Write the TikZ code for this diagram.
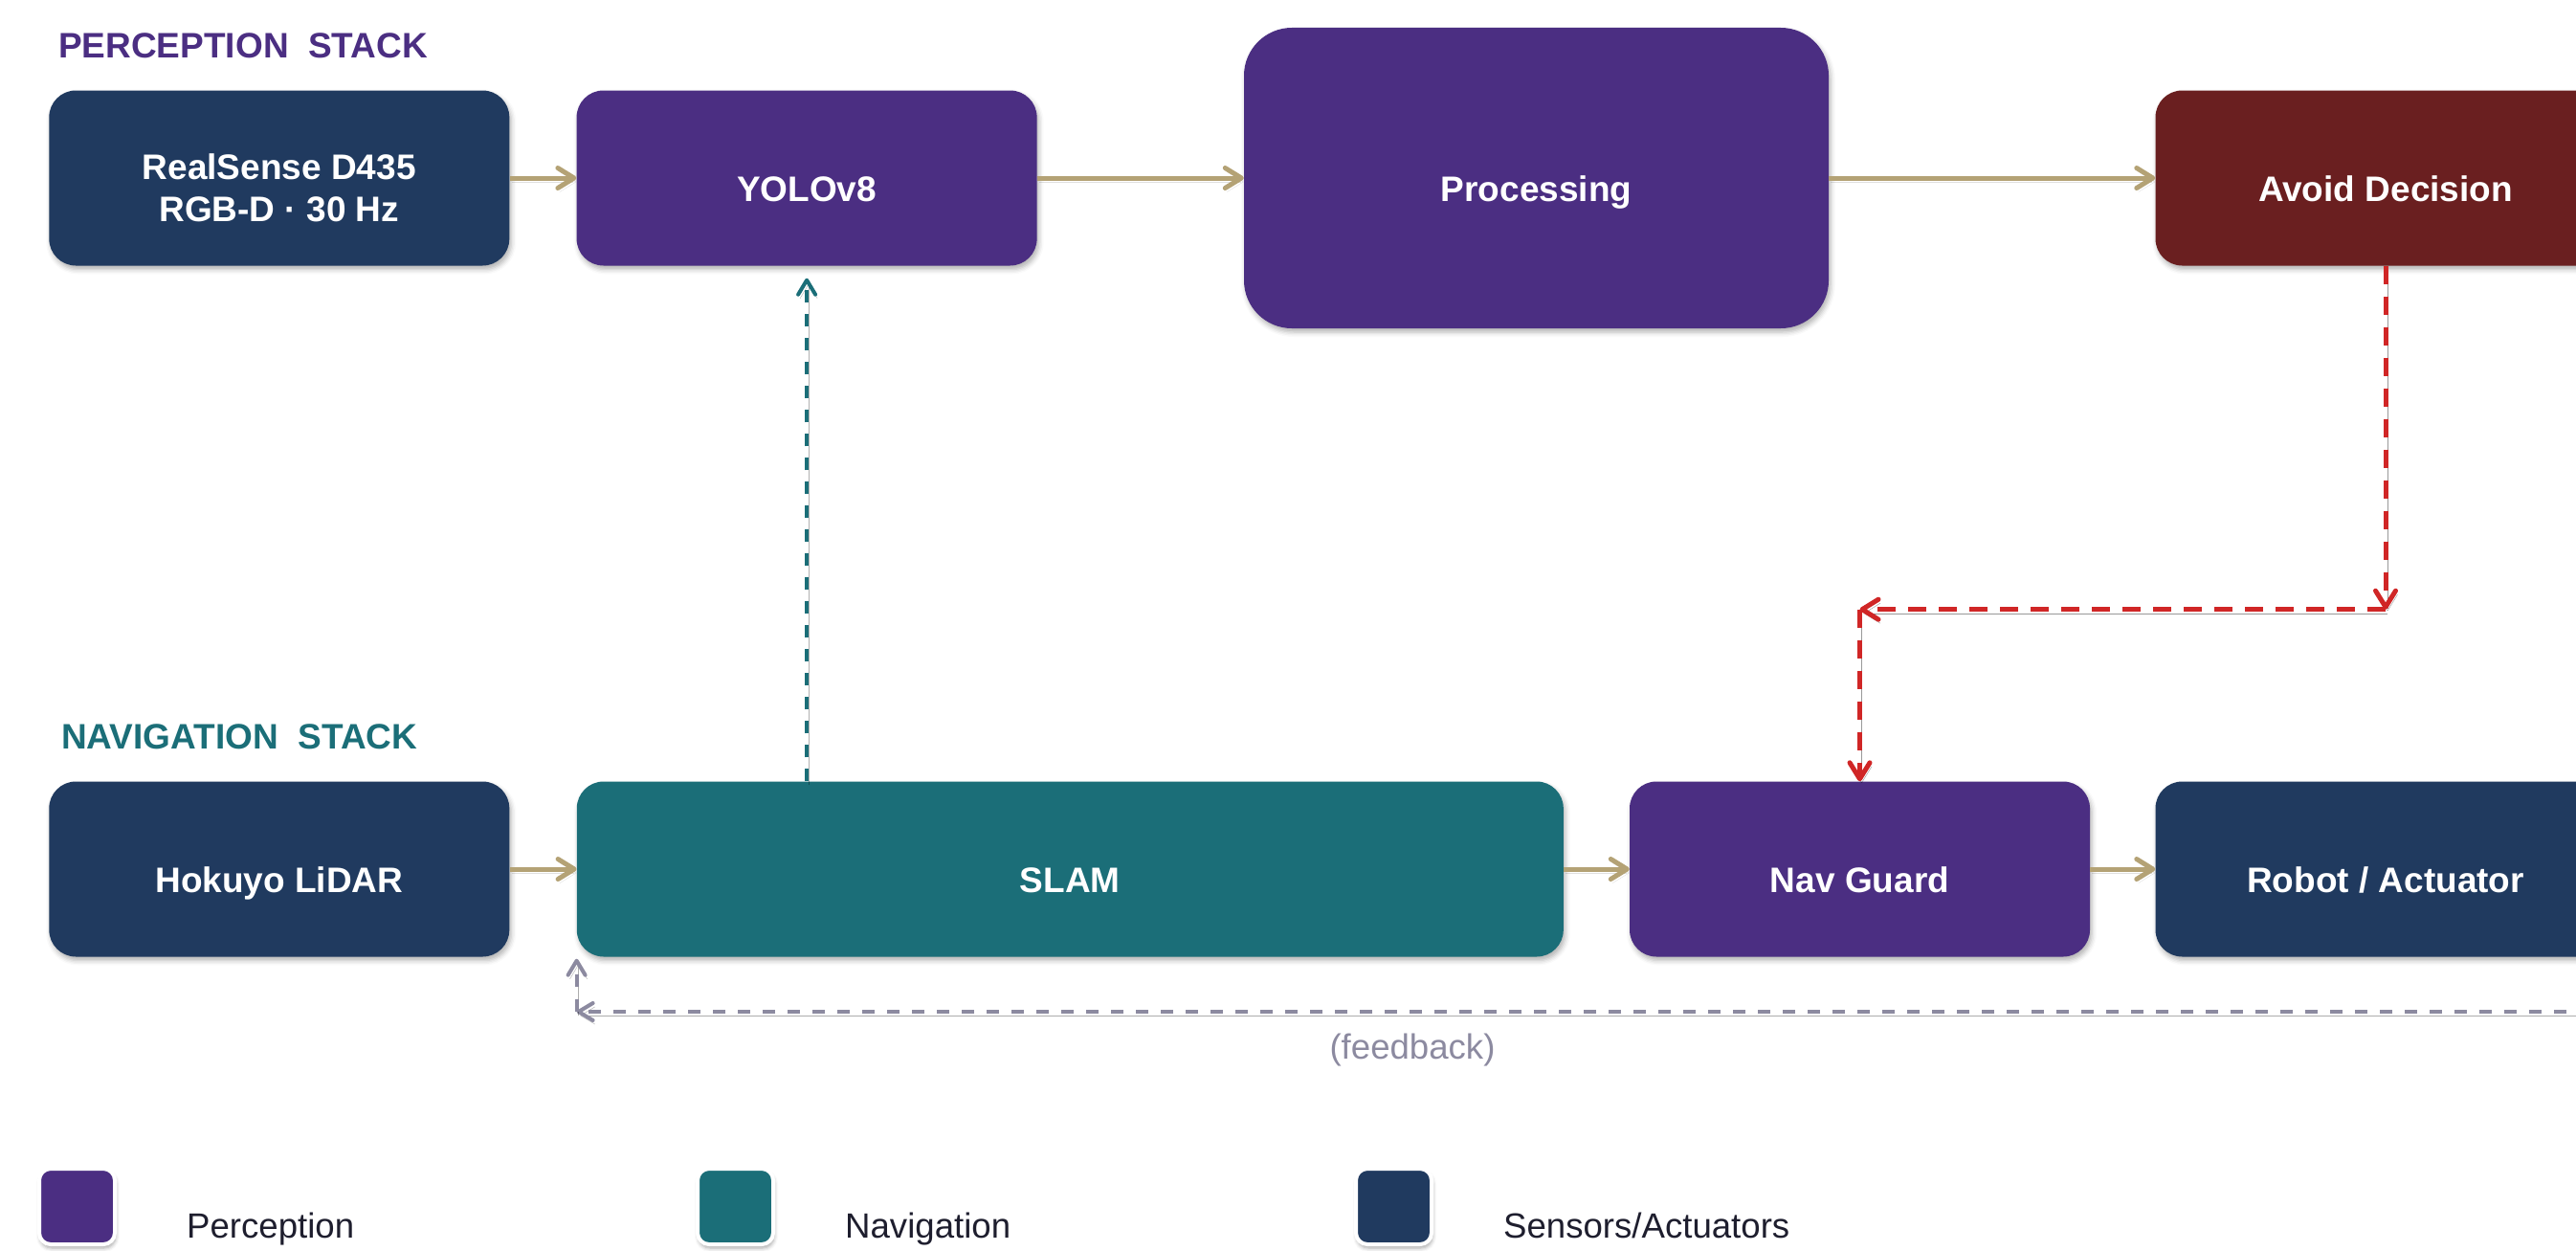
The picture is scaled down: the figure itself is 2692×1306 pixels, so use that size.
\documentclass[tikz,border=0pt]{standalone}
\usepackage{fontspec}
\setmainfont{Liberation Sans}
\usetikzlibrary{arrows.meta,shadows.blur,calc}

\definecolor{sensornavy}{HTML}{203A5F}
\definecolor{percpurple}{HTML}{4B2E82}
\definecolor{navteal}{HTML}{1B6E78}
\definecolor{alertmaroon}{HTML}{6A1F20}
\definecolor{flowtan}{HTML}{B4A275}
\definecolor{alertred}{HTML}{D02626}
\definecolor{fbgrey}{HTML}{8C8AA0}
\definecolor{legendink}{HTML}{1E1E2E}

% single-line box label: baseline 24pt below the box centre
\newcommand{\boxlabel}[1]{\raisebox{-24pt}[0pt][0pt]{#1}}
% two-line box label: first baseline 1pt below the centre, lines 44pt apart
\newcommand{\boxlabeltwo}[2]{\raisebox{-1pt}[0pt][0pt]{\begin{tabular}[t]{@{}c@{}}#1\\#2\end{tabular}}}

\tikzset{
  blk/.style={rectangle, rounded corners=28pt, minimum width=481pt, minimum height=183pt,
    inner sep=0pt, text=white, font=\fontsize{37}{44}\selectfont\bfseries,
    blur shadow={shadow xshift=2pt, shadow yshift=-4pt, shadow blur radius=5pt, shadow opacity=30}},
  sensorbox/.style={blk, fill=sensornavy},
  percbox/.style={blk, fill=percpurple},
  navbox/.style={blk, fill=navteal},
  alertbox/.style={blk, fill=alertmaroon},
  lineshade/.style={preaction={draw=black, opacity=#1, transform canvas={shift={(2pt,-4pt)}}}},
  lineshade/.default=0.15,
  flowarrow/.style={draw=flowtan, line width=5pt, lineshade=0.12,
    -{Straight Barb[length=17pt, width=21pt, round]}},
  tealarrow/.style={draw=navteal, line width=4pt, lineshade=0.3,
    dash pattern=on 13pt off 12pt, shorten >=13pt,
    -{Straight Barb[length=15pt, width=18pt, round]}},
  alertarrow/.style={draw=alertred, line width=5pt, lineshade=0.4,
    dash pattern=on 19pt off 13pt,
    -{Straight Barb[length=17pt, width=21pt, round]}},
  fbarrow/.style={draw=fbgrey, line width=4pt, lineshade=0.32,
    dash pattern=on 13pt off 13pt,
    -{Straight Barb[length=15pt, width=18pt, round]}},
  stacktitle/.style={anchor=base west, inner sep=0pt, font=\fontsize{37}{44}\selectfont\bfseries},
  legendsq/.style={rectangle, rounded corners=12pt, minimum size=79pt, inner sep=0pt,
    draw=white, line width=4pt,
    blur shadow={shadow xshift=1pt, shadow yshift=-4pt, shadow blur radius=4pt, shadow opacity=35}},
  legendtxt/.style={anchor=base west, inner sep=0pt, text=legendink,
    font=\fontsize{36.6}{44}\selectfont},
}

\begin{document}
\begin{tikzpicture}[x=1pt, y=-1pt]
\useasboundingbox (0,0) rectangle (2692,1306);
\clip (0,0) rectangle (2692,1306);

% stack titles
\node[stacktitle, text=percpurple] (ptitle) at (61,60) {PERCEPTION~~STACK};
\node[stacktitle, text=navteal] (ntitle) at (64,782) {NAVIGATION~~STACK};

% perception row
\node[sensorbox] (cam) at (291.8,186) {\boxlabeltwo{RealSense D435}{RGB-D · 30 Hz}};
\node[percbox] (yolo) at (843.1,186) {\boxlabel{YOLOv8}};
\node[percbox, minimum width=611pt, minimum height=314pt, rounded corners=50pt] (proc) at (1605.5,186) {\boxlabel{Processing}};
\node[alertbox] (avoid) at (2493,186) {\boxlabel{Avoid Decision}};

% navigation row
\node[sensorbox] (lidar) at (291.8,908) {\boxlabel{Hokuyo LiDAR}};
\node[navbox, minimum width=1031pt] (slam) at (1118.3,908) {\boxlabel{SLAM}};
\node[percbox] (guard) at (1943.5,908) {\boxlabel{Nav Guard}};
\node[sensorbox] (robot) at (2493,908) {\boxlabel{Robot / Actuator}};

% main data flow
\draw[flowarrow] (cam) -- (yolo);
\draw[flowarrow] (yolo) -- (proc);
\draw[flowarrow] (proc) -- (avoid);
\draw[flowarrow] (lidar) -- (slam);
\draw[flowarrow] (slam) -- (guard);
\draw[flowarrow] (guard) -- (robot);

% SLAM pose into the detector
\draw[tealarrow] (slam.north -| yolo.south) -- (yolo.south);

% avoidance command routed down to the navigation guard
\path (avoid.south) ++(0,359) coordinate (turnA);
\coordinate (turnB) at (guard.north |- turnA);
\draw[alertarrow] (avoid.south) -- (turnA);
\draw[alertarrow] (turnA) -- (turnB);
\draw[alertarrow] (turnB) -- (guard.north);

% feedback loop from the actuator back to SLAM
\coordinate (fbstart) at (2760,1057);
\coordinate (fbturn) at (slam.south west |- fbstart);
\draw[fbarrow] (fbstart) -- (fbturn);
\draw[fbarrow, shorten >=2pt] (fbturn) -- (slam.south west);
\node[anchor=base, inner sep=0pt, text=fbgrey, font=\fontsize{36.6}{44}\selectfont] (fblabel) at (1476,1106) {(feedback)};

% legend
\node[legendsq, fill=percpurple] (keyperc) at (80.5,1260.5) {};
\node[legendtxt] (keyperctxt) at (195,1293) {Perception};
\node[legendsq, fill=navteal] (keynav) at (768.5,1260.5) {};
\node[legendtxt] (keynavtxt) at (883,1293) {Navigation};
\node[legendsq, fill=sensornavy] (keysens) at (1456.5,1260.5) {};
\node[legendtxt] (keysenstxt) at (1571,1293) {Sensors/Actuators};
\end{tikzpicture}
\end{document}
